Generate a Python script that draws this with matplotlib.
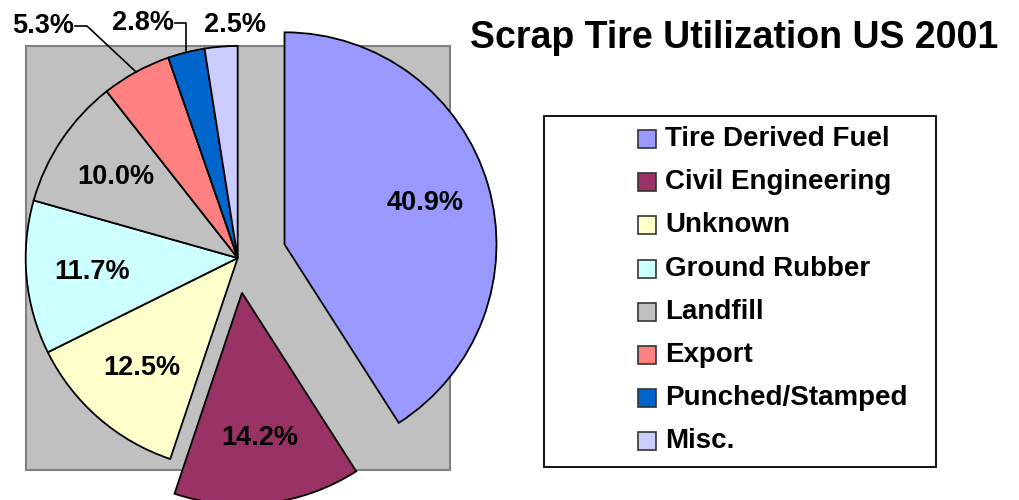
import matplotlib
matplotlib.use("Agg")
import matplotlib.pyplot as plt
from matplotlib.patches import Rectangle
import numpy as np

plt.rcParams['font.family'] = ['Liberation Sans', 'DejaVu Sans']
plt.rcParams['font.weight'] = 'bold'

# data
categories = ["Tire Derived Fuel", "Civil Engineering", "Unknown", "Ground Rubber",
              "Landfill", "Export", "Punched/Stamped", "Misc."]
shares = [40.9, 14.2, 12.5, 11.7, 10.0, 5.3, 2.8, 2.5]
colors = ["#9999FF", "#993366", "#FFFFCC", "#CCFFFF", "#C0C0C0", "#FF8080", "#0066CC", "#CCCCFF"]
explode_frac = [0.23, 0.165, 0, 0, 0, 0, 0, 0]
title = "Scrap Tire Utilization US 2001"

W, H = 1019, 500
fig = plt.figure(figsize=(W / 100, H / 100), dpi=100)
ax = fig.add_axes([0, 0, 1, 1])

# pie geometry in pixel units (y up)
cx, cy, R = 237.7, H - 258, 212

# plot area background
ax.add_patch(Rectangle((cx - R, cy - R), 2 * R, 2 * R, facecolor="#C0C0C0",
                       edgecolor="#808080", lw=1.5, zorder=0))

wedges, _ = ax.pie(shares, colors=colors, startangle=90, counterclock=False,
                   radius=R, center=(cx, cy),
                   explode=[e * R for e in explode_frac],
                   wedgeprops=dict(edgecolor="black", linewidth=1.3))

# percentage labels
total = sum(shares)
for w, v in zip(wedges, shares):
    pct = "%.1f%%" % (100 * v / total)
    mid = np.deg2rad((w.theta1 + w.theta2) / 2)
    wx, wy = w.center
    if v >= 10:
        ax.text(wx + 0.69 * R * np.cos(mid), wy + 0.69 * R * np.sin(mid), pct,
                ha="center", va="center", fontsize=19.5, fontweight="bold")

# small slices: labels outside with leader lines
outside = {5: (42.7, 26, 87), 6: (143, 23, None), 7: (235.5, 25, None)}
for i, (tx, ty, elbow) in outside.items():
    w = wedges[i]
    pct = "%.1f%%" % (100 * shares[i] / total)
    ax.text(tx, H - ty, pct, ha="center", va="center", fontsize=19.5, fontweight="bold")
    mid = np.deg2rad((w.theta1 + w.theta2) / 2)
    ex, ey = w.center[0] + R * np.cos(mid), w.center[1] + R * np.sin(mid)
    if i == 5:
        ax.plot([75, elbow, ex], [H - ty, H - ty, ey], color="black", lw=1.2, zorder=5)
    elif i == 6:
        ax.plot([175, ex, ex], [H - ty, H - ty, ey], color="black", lw=1.2, zorder=5)

ax.set_xlim(0, W)
ax.set_ylim(0, H)
ax.set_aspect("auto")
ax.axis("off")

# title
ax.text(734, H - 38, title, ha="center", va="center", fontsize=27, fontweight="bold")

# legend box
lx0, ly0, lx1, ly1 = 544, 116, 936, 467
ax.add_patch(Rectangle((lx0, H - ly1), lx1 - lx0, ly1 - ly0, facecolor="white",
                       edgecolor="black", lw=1.3, zorder=4))
row0, step = 139, 43.2
for k, (name, c) in enumerate(zip(categories, colors)):
    y = H - (row0 + k * step)
    ax.add_patch(Rectangle((638, y - 9), 18, 18, facecolor=c, edgecolor="#333333",
                           lw=1.2, zorder=5))
    ax.text(665, y, name, ha="left", va="center", fontsize=20, fontweight="bold", zorder=6)

fig.savefig("out.png", dpi=100)
